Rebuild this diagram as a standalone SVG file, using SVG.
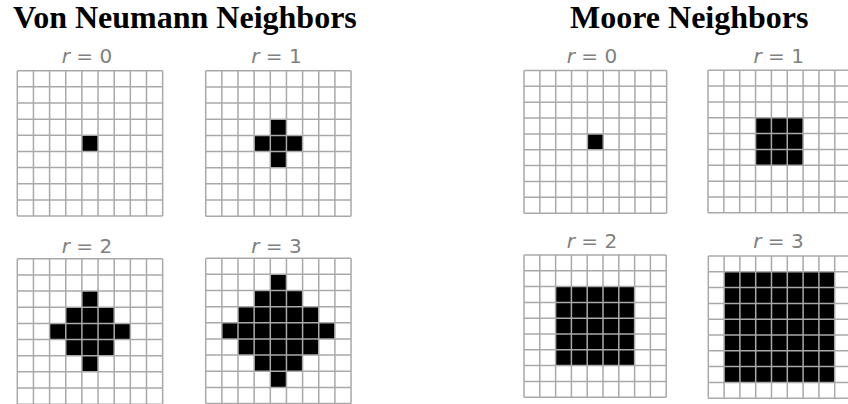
<svg xmlns="http://www.w3.org/2000/svg" xmlns:xlink="http://www.w3.org/1999/xlink" width="848" height="404" viewBox="0 0 848 404">
  <style>
    .title { font-family: "Liberation Serif", "Times New Roman", serif; font-weight: bold; font-size: 32px; fill: #000; }
    .lbl { font-family: "DejaVu Sans", "Liberation Sans", sans-serif; font-size: 20px; fill: #808080; text-anchor: middle; }
    .lbl tspan.v { font-style: italic; }
    .bg { fill: #fff; }
    .on { fill: #000; }
    .gl { fill: none; stroke: #a9a9a9; stroke-width: 1.5; vector-effect: non-scaling-stroke; }
  </style>
  <defs>
    <rect id="bg" class="bg" x="0" y="0" width="9" height="9"/>
    <path id="grid" class="gl" d="M0 0V9M1 0V9M2 0V9M3 0V9M4 0V9M5 0V9M6 0V9M7 0V9M8 0V9M9 0V9M0 0H9M0 1H9M0 2H9M0 3H9M0 4H9M0 5H9M0 6H9M0 7H9M0 8H9M0 9H9"/>
  </defs>
  <rect width="848" height="404" fill="#fff"/>

  <text class="title" x="13" y="28">Von Neumann Neighbors</text>
  <text class="title" x="570" y="28">Moore Neighbors</text>

  <g id="vn-r0">
    <text class="lbl" x="87" y="63"><tspan class="v">r</tspan> = 0</text>
    <g transform="translate(17.3 70.7) scale(16.15)">
      <use xlink:href="#bg"/>
      <rect class="on" x="4" y="4" width="1" height="1"/>
      <use xlink:href="#grid"/>
    </g>
  </g>

  <g id="vn-r1">
    <text class="lbl" x="276.5" y="63"><tspan class="v">r</tspan> = 1</text>
    <g transform="translate(205.7 70.8) scale(16.15)">
      <use xlink:href="#bg"/>
      <path class="on" d="M4 3h1v1h1v1h-1v1h-1v-1h-1v-1h1z"/>
      <use xlink:href="#grid"/>
    </g>
  </g>

  <g id="vn-r2">
    <text class="lbl" x="87" y="252.5"><tspan class="v">r</tspan> = 2</text>
    <g transform="translate(17.3 258.8) scale(16.15)">
      <use xlink:href="#bg"/>
      <path class="on" d="M4 2h1v1h1v1h1v1h-1v1h-1v1h-1v-1h-1v-1h-1v-1h1v-1h1z"/>
      <use xlink:href="#grid"/>
    </g>
  </g>

  <g id="vn-r3">
    <text class="lbl" x="276.5" y="252.5"><tspan class="v">r</tspan> = 3</text>
    <g transform="translate(205.7 258.2) scale(16.15)">
      <use xlink:href="#bg"/>
      <path class="on" d="M4 1h1v1h1v1h1v1h1v1h-1v1h-1v1h-1v1h-1v-1h-1v-1h-1v-1h-1v-1h1v-1h1v-1h1z"/>
      <use xlink:href="#grid"/>
    </g>
  </g>

  <g id="moore-r0">
    <text class="lbl" x="592" y="62.7"><tspan class="v">r</tspan> = 0</text>
    <g transform="translate(524 70.5) scale(15.85)">
      <use xlink:href="#bg"/>
      <rect class="on" x="4" y="4" width="1" height="1"/>
      <use xlink:href="#grid"/>
    </g>
  </g>

  <g id="moore-r1">
    <text class="lbl" x="778.7" y="62.7"><tspan class="v">r</tspan> = 1</text>
    <g transform="translate(708 70.2) scale(15.85)">
      <use xlink:href="#bg"/>
      <rect class="on" x="3" y="3" width="3" height="3"/>
      <use xlink:href="#grid"/>
    </g>
  </g>

  <g id="moore-r2">
    <text class="lbl" x="592" y="248.3"><tspan class="v">r</tspan> = 2</text>
    <g transform="translate(524 255) scale(15.8)">
      <use xlink:href="#bg"/>
      <rect class="on" x="2" y="2" width="5" height="5"/>
      <use xlink:href="#grid"/>
    </g>
  </g>

  <g id="moore-r3">
    <text class="lbl" x="778.5" y="248.3"><tspan class="v">r</tspan> = 3</text>
    <g transform="translate(708.3 256) scale(15.8)">
      <use xlink:href="#bg"/>
      <rect class="on" x="1" y="1" width="7" height="7"/>
      <use xlink:href="#grid"/>
    </g>
  </g>

  <g id="connectors"/>
</svg>
